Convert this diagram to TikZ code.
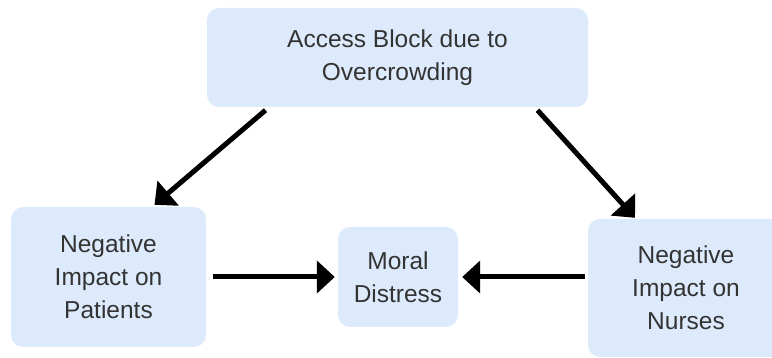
\documentclass[tikz,border=0pt]{standalone}
\usepackage{fontspec}
\setmainfont{Liberation Sans}
\usepackage{xcolor}
\usetikzlibrary{arrows.meta,positioning}
\definecolor{boxblue}{HTML}{DDEAFC}
\definecolor{txtgray}{HTML}{333333}
\tikzset{
    box/.style={fill=boxblue, rounded corners=12pt, align=center, text=txtgray, font=\fontsize{24.5}{33}\selectfont, inner sep=0pt},
    arr/.style={line width=5pt, -{Triangle[length=18pt,width=32pt]}},
}

\begin{document}
\begin{tikzpicture}[x=1pt,y=-1pt]
\useasboundingbox (0,0) rectangle (772,358);
\clip (0,0) rectangle (772,358);

\node [box, minimum width=381pt, minimum height=99pt] (block) at (397.5,57.5) {Access Block due to\\Overcrowding};
\node [box, minimum width=195pt, minimum height=140pt] (patients) at (108.5,277) {Negative\\Impact on\\Patients};
\node [box, minimum width=120pt, minimum height=100pt] (distress) at (398,277) {Moral\\Distress};
\node [box, minimum width=196pt, minimum height=138pt] (nurses) at (686,288) {Negative\\Impact on\\Nurses};

\draw [arr] ([xshift=-132pt,yshift=-3pt]block.south) -- ([xshift=46pt,yshift=2pt]patients.north);
\draw [arr] ([xshift=140pt,yshift=-3pt]block.south) -- ([xshift=-51pt,yshift=1pt]nurses.north);
\draw [arr, shorten <=7pt, shorten >=3pt] (patients.east) -- (distress.west);
\draw [arr, shorten <=3pt, shorten >=4pt] (nurses.west |- distress.east) -- (distress.east);

\end{tikzpicture}
\end{document}
